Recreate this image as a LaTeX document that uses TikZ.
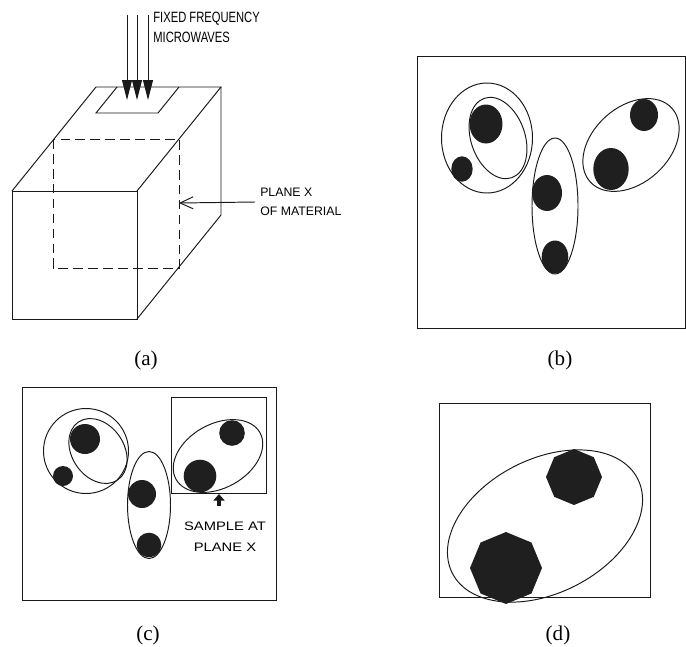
\documentclass[tikz,border=0pt]{standalone}
\usepackage{fontspec}
\setmainfont{Liberation Serif}
\newfontfamily\cadfont[FakeStretch=0.75]{Liberation Sans}
\newfontfamily\cadfontplain{Liberation Sans}
\newfontfamily\cadfontwide[FakeStretch=1.2]{Liberation Sans}
\usetikzlibrary{arrows.meta,shapes.geometric}

\tikzset{
  edge/.style={line width=0.55pt, black!90},
  hidden/.style={edge, dash pattern=on 5.5pt off 3pt},
  blob/.style={fill=black!88},
  octdot/.style={blob, regular polygon, regular polygon sides=8,
    shape border rotate=22.5, inner sep=0pt},
  caption/.style={font=\fontsize{12}{14}\selectfont},
}

\begin{document}
\begin{tikzpicture}[x=0.02cm, y=-0.02cm]
\useasboundingbox (0,0) rectangle (686,646);

% (a) block of material
\draw[edge] (12,191) rectangle (137,319);
\draw[edge] (12,191) -- (96,87) -- (221,87) -- (137,191);
\draw[edge] (221,87) -- (221,215) -- (137,319);
\draw[edge] (117,87) -- (96,113) -- (158,113) -- (179,87);
\draw[hidden] (53,139) rectangle (179,268);

% microwaves from above
\foreach \x in {127,137,148}
  \draw[edge, -{Triangle[length=0.4cm, width=0.2cm]}] (\x,15) -- (\x,100);
\node[anchor=west, align=left, inner sep=0pt,
  font={\cadfont\fontsize{8.5}{11.3}\selectfont}] (waves) at (153,27)
  {FIXED FREQUENCY\\MICROWAVES};

% plane X
\coordinate (planex) at (179,203);
\node[anchor=west, align=left, inner sep=0pt, outer sep=3pt,
  font={\cadfontplain\fontsize{7}{10.8}\selectfont}] (planelbl) at (255,202)
  {PLANE X\\OF MATERIAL};
\draw[edge, -{Straight Barb[length=0.26cm, width=0.24cm]}] (planelbl.west) -- (planex);

% (b) clusters
\draw[edge] (417,56) rectangle (685,328);
\draw[edge] (487,138) ellipse [x radius=45.5, y radius=55];
\draw[edge, rotate around={-71:(498,138)}] (498,138) ellipse [x radius=42, y radius=27];
\draw[edge] (555,206) ellipse [x radius=23, y radius=68];
\draw[edge, rotate around={42:(631,145)}] (631,145) ellipse [x radius=55, y radius=38];
\fill[blob] (486,124) ellipse [x radius=16.5, y radius=19.5];
\fill[blob] (462,169) ellipse [x radius=10.7, y radius=12.7];
\fill[blob] (547,193) ellipse [x radius=15, y radius=18];
\fill[blob] (555,257) ellipse [x radius=13.3, y radius=16.5];
\fill[blob] (644,115) ellipse [x radius=14, y radius=16];
\fill[blob] (611,169) ellipse [x radius=17.7, y radius=21];

% (c) clusters with the sample cut out
\draw[edge] (22,387) rectangle (276,600);
\draw[edge] (86,451) ellipse [x radius=42.5, y radius=42.5];
\draw[edge, rotate around={-56:(98,451)}] (98,451) ellipse [x radius=35, y radius=26];
\draw[edge] (149,505) ellipse [x radius=21.5, y radius=53.5];
\draw[edge, rotate around={29:(218,456)}] (218,456) ellipse [x radius=48, y radius=32];
\draw[edge] (171,397) rectangle (266,493);
\fill[blob] (85,439) circle (15);
\fill[blob] (63,476) circle (10);
\fill[blob] (142,494) circle (14);
\fill[blob] (149,545) circle (12.3);
\fill[blob] (232,433) circle (12.8);
\fill[blob] (200,476) circle (16.3);

\coordinate (samplebase) at (219,506);
\coordinate (sampletip) at (219,494);
\draw[line width=2.2pt, black!90, -{Triangle[length=0.13cm, width=0.22cm]}] (samplebase) -- (sampletip);
\node[align=center, inner sep=0pt,
  font={\cadfontwide\fontsize{7}{12}\selectfont}] (sample) at (225,537)
  {SAMPLE AT\\PLANE X};

% (d) the sample, enlarged
\draw[edge] (439,403) rectangle (650,597);
\draw[edge, rotate around={27:(545,526)}] (545,526) ellipse [x radius=104, y radius=67];
\node[octdot, minimum size=1.12cm] (upper) at (574,477) {};
\node[octdot, minimum size=1.44cm] (lower) at (506,568) {};

% captions
\node[caption] (capa) at (146,360) {(a)};
\node[caption] (capb) at (560,360) {(b)};
\node[caption] (capc) at (148,635) {(c)};
\node[caption] (capd) at (558,635) {(d)};
\end{tikzpicture}
\end{document}
